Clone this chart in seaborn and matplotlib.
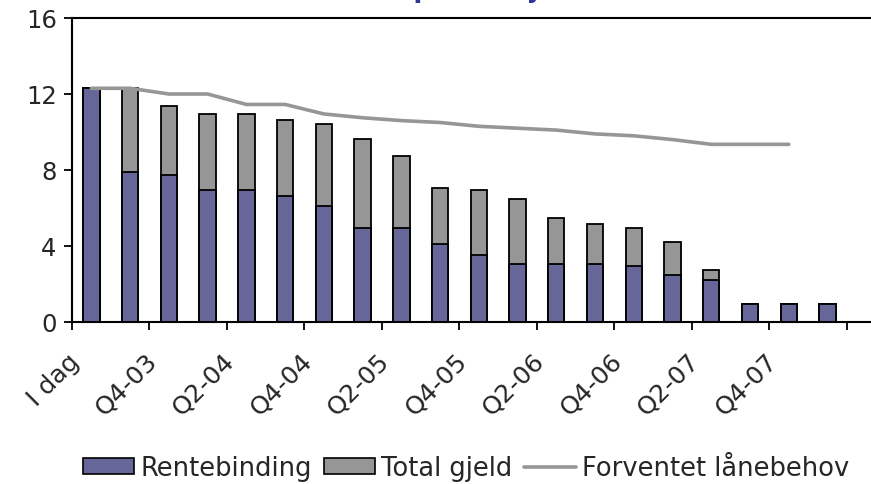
import matplotlib
matplotlib.use("Agg")
import matplotlib.pyplot as plt
import matplotlib.transforms as mtransforms
import seaborn as sns
import pandas as pd
from matplotlib.patches import Patch
from matplotlib.lines import Line2D

# Kategorier (kvartaler)
kategorier = ["I dag", "Q3-03", "Q4-03", "Q1-04", "Q2-04", "Q3-04", "Q4-04",
              "Q1-05", "Q2-05", "Q3-05", "Q4-05", "Q1-06", "Q2-06", "Q3-06",
              "Q4-06", "Q1-07", "Q2-07", "Q3-07", "Q4-07", "Q1-08"]
tick_labels = ["I dag", "Q4-03", "Q2-04", "Q4-04", "Q2-05", "Q4-05",
               "Q2-06", "Q4-06", "Q2-07", "Q4-07"]

rentebinding = [12.3, 7.9, 7.75, 6.95, 6.95, 6.65, 6.1, 4.95, 4.95, 4.1,
                3.55, 3.05, 3.05, 3.05, 2.95, 2.45, 2.2, 0.95, 0.95, 0.95]
total_gjeld = [12.3, 12.3, 11.35, 10.95, 10.95, 10.65, 10.4, 9.65, 8.75, 7.05,
               6.95, 6.45, 5.45, 5.15, 4.95, 4.2, 2.75, 0.95, 0.95, 0.95]
laanebehov = [12.3, 12.3, 12.0, 12.0, 11.45, 11.45, 10.95, 10.75, 10.6, 10.5,
              10.3, 10.2, 10.1, 9.9, 9.8, 9.6, 9.35, 9.35, 9.35]

BLAA = "#666699"
GRAA = "#969696"

sns.set_style("white")
plt.rcParams['font.family'] = ['DejaVu Sans']

df = pd.DataFrame({"Periode": kategorier, "Rentebinding": rentebinding,
                   "Total gjeld": total_gjeld})
df_linje = pd.DataFrame({"x": list(range(len(laanebehov))), "y": laanebehov})

fig = plt.figure(figsize=(8.71, 4.85), dpi=100)
ax = fig.add_axes([72 / 871, 1 - 323 / 485, 1 - 72 / 871, (323 - 19) / 485])

sns.barplot(data=df, x="Periode", y="Total gjeld", color=GRAA, width=0.42,
            edgecolor="black", linewidth=1.3, saturation=1, ax=ax)
sns.barplot(data=df, x="Periode", y="Rentebinding", color=BLAA, width=0.42,
            edgecolor="black", linewidth=1.3, saturation=1, ax=ax)
sns.lineplot(data=df_linje, x="x", y="y", color=GRAA, linewidth=2.6, ax=ax)

ax.set_yticks([0, 4, 8, 12, 16])
ax.set_xticks([-0.5 + 2 * k for k in range(11)])
ax.set_xticklabels([])
ax.set_xticks([2 * k for k in range(10)], minor=True)
ax.set_xticklabels(tick_labels, minor=True, rotation=45, ha="right",
                   va="top", rotation_mode="anchor", fontsize=18)
ax.set_xlim(-0.5, 20.12)
ax.set_ylim(0, 16)
ax.tick_params(axis="x", which="minor", length=0, pad=19)
ax.tick_params(axis="x", which="major", direction="out", length=6, width=1.3,
               color="black", bottom=True)
ax.tick_params(axis="y", direction="out", length=6, width=1.3, color="black",
               left=True, labelsize=17.5, pad=5)
ax.set_xlabel("")
ax.set_ylabel("")
for side in ["left", "top", "bottom"]:
    ax.spines[side].set_color("black")
    ax.spines[side].set_linewidth(1.5)
ax.spines["right"].set_visible(False)

# flytt etikettene mot venstre, som i Excel (etter tick_params)
skift = mtransforms.ScaledTranslation(-24 / 100, 0, fig.dpi_scale_trans)
for tick in ax.xaxis.get_minor_ticks():
    tick.label1.set_transform(tick.label1.get_transform() + skift)

handles = [Patch(facecolor=BLAA, edgecolor="black", linewidth=1.2),
           Patch(facecolor=GRAA, edgecolor="black", linewidth=1.2),
           Line2D([], [], color=GRAA, linewidth=2.6)]
fig.legend(handles, ["Rentebinding", "Total gjeld", "Forventet lånebehov"],
           loc="center", bbox_to_anchor=(466 / 871, 1 - 469 / 485), ncol=3,
           frameon=False, fontsize=18.5, handlelength=2.0, handletextpad=0.25,
           columnspacing=0.45, handleheight=0.55, borderaxespad=0)

# Tittelen er nesten helt skåret bort i originalen
fig.text(0.518, 1 + 3 / 485, "Låneportefølje", ha="center", va="baseline",
         fontsize=18.5, fontweight="bold", color="#333399")

fig.savefig("out.png", dpi=100)
